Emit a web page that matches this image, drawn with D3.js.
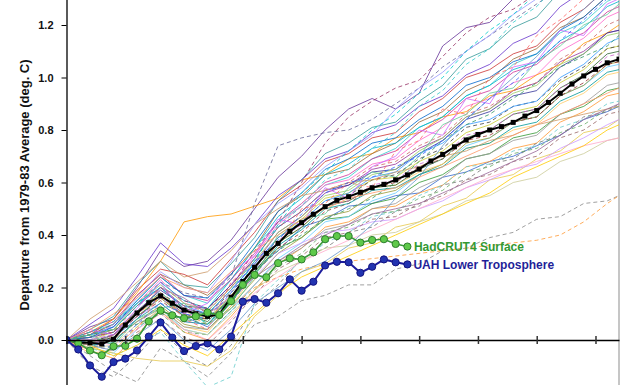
<!DOCTYPE html>
<html>
<head>
<meta charset="utf-8">
<script src="https://cdn.jsdelivr.net/npm/d3@7"></script>
<style>
body { margin: 0; background: #fff; }
svg { display: block; font-family: Arial, "Liberation Sans", sans-serif; }
</style>
</head>
<body>
<div id="chart"></div>
<script>
// 5-yr running means, departure from 1979-83 average (deg C)
var years = d3.range(1980, 2028);
var modelMean = [0, -0.01, -0.01, -0.015, 0.003, 0.057, 0.103, 0.142, 0.168, 0.14, 0.114, 0.10, 0.09, 0.098, 0.163, 0.223,
	0.277, 0.33, 0.368, 0.414, 0.447, 0.479, 0.508, 0.532, 0.546, 0.563, 0.58, 0.593, 0.61, 0.629, 0.651, 0.682,
	0.707, 0.736, 0.762, 0.783, 0.80, 0.813, 0.829, 0.853, 0.874, 0.905, 0.94, 0.975, 1.006, 1.031, 1.056, 1.07];
var hadcrut4 = [0, -0.012, -0.04, -0.058, -0.024, -0.022, 0.005, 0.071, 0.112, 0.094, 0.083, 0.09, 0.105, 0.095, 0.148,
	0.21, 0.248, 0.239, 0.293, 0.311, 0.307, 0.334, 0.384, 0.396, 0.396, 0.371, 0.381, 0.384, 0.366, 0.356];
var uah = [0, -0.036, -0.097, -0.14, -0.084, -0.071, -0.04, 0.013, 0.067, 0.009, -0.042, -0.023, -0.013, -0.036, 0.013,
	0.146, 0.156, 0.142, 0.178, 0.231, 0.188, 0.222, 0.284, 0.298, 0.296, 0.256, 0.279, 0.307, 0.296, 0.288];

// individual model runs, hundredths of a degree C, read every 2nd year
var modelYears = d3.range(1980, 2027, 2).concat([2027]);
var models = [
	[0,3,6,15,24,17,14,23,35,45,51,59,62,69,73,81,85,93,97,105,109,117,121,129,131],
	[0,-2,1,8,17,9,5,14,27,34,43,46,51,52,55,56,62,64,68,70,74,78,84,87,89],
	[0,1,4,13,20,12,10,19,29,41,47,56,59,65,67,73,77,85,88,95,98,106,110,117,118],
	[0,-4,-7,2,11,3,0,9,19,29,35,43,45,50,51,56,59,66,68,73,75,83,87,93,94],
	[0,2,8,19,27,25,21,31,41,53,59,68,71,77,79,87,92,100,103,109,112,121,126,134,136],
	[0,-1,2,9,16,9,8,16,26,35,39,46,47,52,54,60,63,69,71,77,79,86,89,95,96],
	[0,5,8,20,34,28,30,38,50,62,70,80,88,92,88,94,112,119,121,130,136,142,148,152,155],
	[0,-3,-5,4,12,4,2,11,21,31,37,45,47,53,56,63,67,74,77,83,85,93,97,104,105],
	[0,0,3,11,18,11,8,17,27,39,46,54,56,61,62,68,72,79,82,87,89,98,103,111,112],
	[0,2,5,14,23,14,12,21,32,44,51,59,61,67,69,76,81,89,92,98,101,110,115,123,125],
	[0,-10,-14,-6,4,-5,-10,-2,13,21,31,35,41,43,49,51,59,61,67,69,75,78,85,87,90],
	[0,-6,-12,-16,-3,-8,-14,-5,6,9,15,17,21,21,27,29,34,35,39,41,46,47,52,53,55],
	[0,-3,-6,-2,3,-8,-18,-14,14,23,30,37,41,47,49,55,59,66,67,72,74,81,84,90,91],
	[0,3,8,18,30,45,47,48,51,54,61,63,69,71,77,79,85,87,93,95,101,105,113,117,120],
	[0,-3,-5,-7,-8,-8,-10,-4,9,17,26,29,35,37,43,45,51,54,61,63,69,72,79,81,84],
	[0,2,6,17,25,21,17,25,35,49,55,63,65,71,75,83,87,95,99,107,111,119,123,131,133],
	[0,1,3,11,19,13,12,21,31,43,49,57,59,64,65,71,76,84,87,93,95,104,109,117,118],
	[0,-2,0,7,13,6,4,13,23,33,39,47,49,55,57,63,67,75,77,83,85,93,97,105,106],
	[0,2,4,13,22,15,12,23,35,47,54,63,67,73,75,81,85,93,97,103,106,114,119,127,129],
	[0,0,2,9,14,7,6,15,24,33,37,41,42,45,46,50,53,58,61,65,67,73,77,82,84],
	[0,4,9,21,30,21,20,29,39,53,61,71,75,81,83,91,97,107,111,119,123,133,139,147,150],
	[0,-1,1,9,15,9,8,15,25,35,41,49,52,58,60,66,69,76,78,83,85,93,98,105,106],
	[0,2,6,14,22,18,16,24,52,74,77,79,80,84,90,96,104,110,116,122,128,134,140,146,150],
	[0,1,3,10,20,15,12,20,34,45,60,75,85,91,96,99,108,117,123,126,132,138,144,150,152],
	[0,-2,-3,5,10,3,2,11,19,28,33,41,43,48,49,54,57,64,66,71,73,79,82,88,89],
	[0,3,7,17,25,17,15,23,33,45,52,60,63,69,72,79,84,92,95,102,105,113,117,125,127],
	[0,-1,2,11,18,12,10,18,28,39,45,53,55,61,63,69,73,81,83,89,91,99,104,111,112],
	[0,1,4,14,21,14,11,20,30,41,47,55,57,63,65,72,77,85,88,94,97,105,109,116,117],
	[0,-5,-4,5,12,5,3,13,25,37,43,51,53,58,59,64,67,73,75,80,82,90,94,101,102],
	[0,2,5,14,20,13,10,19,29,39,45,53,56,62,64,71,75,82,84,89,91,100,105,113,115],
	[0,6,12,24,37,29,28,35,44,55,61,69,72,79,82,89,93,101,105,113,117,127,133,141,142],
	[0,-1,0,7,12,5,4,12,21,30,35,42,44,50,52,58,62,69,71,76,78,86,90,97,98],
	[0,1,3,13,20,13,11,20,31,43,49,57,60,66,68,74,78,86,89,95,98,107,112,120,122],
	[0,-2,-1,8,14,7,6,15,25,36,42,50,52,57,58,63,66,73,75,81,83,91,95,102,103],
	[0,2,4,13,18,11,10,19,31,43,51,61,65,73,79,89,95,105,111,121,127,137,143,153,156],
	[0,-1,1,10,17,10,7,16,26,37,43,51,53,58,59,65,69,77,80,86,88,96,101,109,110],
	[0,0,2,10,16,10,9,17,27,38,44,51,53,59,61,67,70,78,80,86,88,96,100,108,109],
	[0,-3,-2,6,11,4,2,10,19,26,30,35,36,40,41,45,48,53,55,60,62,68,71,76,77],
	[0,1,5,15,24,17,16,25,37,49,56,65,69,75,77,84,89,97,100,106,109,118,123,131,132],
	[0,-2,-4,3,8,1,-2,7,17,27,32,39,41,46,47,52,55,61,63,68,70,77,80,86,87],
	[0,2,4,10,16,10,6,12,20,24,27,29,30,31,32,33,34,35,36,37,38,40,45,52,55],
	[0,0,-2,4,10,4,0,8,18,24,30,34,38,42,46,50,54,58,62,65,68,71,74,76,77],
	[0,8,14,22,30,24,26,34,44,50,55,57,60,61,64,66,70,72,76,78,82,84,86,88,89],
	[0,-2,-4,2,8,0,-4,4,14,20,26,30,36,44,54,62,74,84,92,100,108,118,126,134,138],
	[0,4,2,12,22,10,14,26,32,46,44,58,54,66,70,80,78,92,90,104,106,118,116,128,130],
	[0,-4,2,4,18,8,4,22,30,36,50,52,60,58,72,76,88,86,100,104,116,122,130,136,140],
	[0,2,-2,8,12,14,6,12,24,40,46,48,58,64,62,70,82,86,94,96,106,112,120,124,128],
	[0,0,6,16,26,20,18,30,44,52,58,66,72,78,88,96,102,110,116,124,130,136,142,150,154],
	[0,-2,-6,-2,4,-2,-6,2,10,18,24,28,32,36,40,44,48,52,56,62,66,70,74,80,82],
	[0,3,7,14,20,12,6,16,30,44,56,64,72,80,86,94,100,110,118,124,132,140,146,152,155],
	[0,-2,2,10,20,16,10,16,24,30,36,40,44,48,50,52,56,60,64,68,72,78,84,88,90],
	[0,2,4,6,10,8,6,14,26,34,40,46,50,54,60,68,76,82,86,92,98,104,108,112,116],
	[0,4,10,16,24,20,18,26,34,40,46,50,54,56,58,62,66,70,74,78,82,86,90,94,96],
	[0,-1,-3,6,14,10,8,18,30,38,48,56,60,62,66,70,76,84,92,98,106,114,122,130,132]
];
var modelColors = ["#33cccc","#3366cc","#993399","#ff9933","#cc3333","#339933","#663399","#66ccff",
	"#cccc33","#ff66cc","#777777","#888888","#66cccc","#ff9900","#e6c84c","#996633",
	"#333399","#999933","#00b3cc","#cc99ff","#339999","#993333","#666699","#993366",
	"#66aa66","#cc3399","#444444","#99cc66","#ffcc66","#3399ff","#6633cc","#999999",
	"#cc6666","#009999","#33cccc","#336633","#cc66cc","#cccc99","#0066cc","#996666",
	"#ff9933","#ffaacc","#cc9966","#6699cc","#cc66ff","#ff6666","#66cc99","#9999ff",
	"#ffcc00","#00cccc","#996699","#339966","#ff9966","#3366ff"];
var modelDashed = [0,0,0,0,0,0,0,0, 0,0,1,1,1,0,0,0, 0,0,0,0,0,1,1,1, 1,0,1,0,0,0,0,0,
	1,0,1,0,1,0,0,1, 1,0,0,0,0,1,0,0, 0,1,0,1,0,1];

var yTicks = [0, 0.2, 0.4, 0.6, 0.8, 1.0, 1.2];
var xTicks = d3.range(1980, 2030, 5);

var width = 640;
var height = 385;
var svg = d3.select("#chart")
	.append("svg")
	.attr("width", width)
	.attr("height", height);

var plotLeft = 66.5, plotRight = 619;
var xScale = d3.scaleLinear().domain([1980, 2027]).range([plotLeft, plotRight]);
var yScale = d3.scaleLinear().domain([-0.25, 1.35]).range([340 + 0.25 * 262.5, 340 - 1.35 * 262.5]);
var plotTop = yScale(1.35), plotBottom = yScale(-0.25);

svg.append("clipPath").attr("id", "plot")
	.append("rect")
	.attr("x", plotLeft).attr("y", plotTop)
	.attr("width", plotRight - plotLeft).attr("height", plotBottom - plotTop);

// right border of the plot area
svg.append("line")
	.attr("x1", plotRight).attr("x2", plotRight)
	.attr("y1", plotTop).attr("y2", plotBottom)
	.attr("stroke", "#a0a0a0").attr("stroke-width", 1.2);

var line = d3.line()
	.x(function(d) { return xScale(d[0]); })
	.y(function(d) { return yScale(d[1]); });

var plot = svg.append("g").attr("clip-path", "url(#plot)");

// model spaghetti
plot.append("g")
	.selectAll("path")
	.data(models)
	.enter()
	.append("path")
	.attr("d", function(vals) {
		return line(vals.map(function(v, j) { return [modelYears[j], v / 100]; }));
	})
	.attr("fill", "none")
	.attr("stroke", function(d, i) { return modelColors[i]; })
	.attr("stroke-width", 1)
	.attr("stroke-opacity", 0.8)
	.attr("stroke-dasharray", function(d, i) { return modelDashed[i] ? "4,3" : null; });

// x axis through zero, ticks crossing the line
var axisX = d3.axisBottom(xScale)
	.tickValues(xTicks)
	.tickSize(4)
	.tickSizeOuter(0)
	.tickFormat("");
var gx = svg.append("g")
	.attr("transform", "translate(0," + yScale(0) + ")")
	.call(axisX);
gx.select(".domain").attr("stroke", "#000").attr("stroke-width", 1.3);
gx.selectAll(".tick line").attr("y1", -4).attr("y2", 4).attr("stroke", "#333").attr("stroke-width", 1.5);

// y axis
var axisY = d3.axisLeft(yScale)
	.tickValues(yTicks)
	.tickSize(5)
	.tickSizeOuter(0)
	.tickPadding(8)
	.tickFormat(d3.format(".1f"));
var gy = svg.append("g")
	.attr("transform", "translate(" + plotLeft + ",0)")
	.call(axisY);
gy.select(".domain").attr("stroke", "#000").attr("stroke-width", 1.3);
gy.selectAll(".tick line").attr("stroke", "#000");
gy.selectAll(".tick text")
	.attr("font-family", "Arial, 'Liberation Sans', sans-serif")
	.attr("font-size", 11)
	.attr("font-weight", "bold")
	.attr("fill", "#111");

svg.append("text")
	.attr("transform", "translate(29,185) rotate(-90)")
	.attr("text-anchor", "middle")
	.attr("font-size", 13)
	.attr("font-weight", "bold")
	.attr("fill", "#111")
	.text("Departure from 1979-83 Average (deg. C)");

// multi-model mean
var meanData = years.map(function(y, i) { return [y, modelMean[i]]; });
plot.append("path")
	.attr("d", line(meanData))
	.attr("fill", "none")
	.attr("stroke", "#000")
	.attr("stroke-width", 2);
plot.append("g")
	.selectAll("rect")
	.data(meanData)
	.enter()
	.append("rect")
	.attr("x", function(d) { return xScale(d[0]) - 2.5; })
	.attr("y", function(d) { return yScale(d[1]) - 2.5; })
	.attr("width", 5)
	.attr("height", 5)
	.attr("fill", "#000");

// observations
function drawObs(vals, lineColor, fill, stroke, width) {
	var data = vals.map(function(v, i) { return [years[i], v]; });
	plot.append("path")
		.attr("d", line(data))
		.attr("fill", "none")
		.attr("stroke", lineColor)
		.attr("stroke-width", width);
	plot.append("g")
		.selectAll("circle")
		.data(data)
		.enter()
		.append("circle")
		.attr("cx", function(d) { return xScale(d[0]); })
		.attr("cy", function(d) { return yScale(d[1]); })
		.attr("r", 3.6)
		.attr("fill", fill)
		.attr("stroke", stroke)
		.attr("stroke-width", 1);
	return data[data.length - 1];
}
var hEnd = drawObs(hadcrut4, "#3a9a3a", "#5fc94a", "#2e7d2e", 1.6);
var uEnd = drawObs(uah, "#1c1c9c", "#2233b0", "#141480", 2);

svg.append("text")
	.attr("x", xScale(hEnd[0]) + 6.5)
	.attr("y", yScale(hEnd[1]) + 4.5)
	.attr("font-size", 12)
	.attr("font-weight", "bold")
	.attr("fill", "#339933")
	.text("HadCRUT4 Surface");
svg.append("text")
	.attr("x", xScale(uEnd[0]) + 6)
	.attr("y", yScale(uEnd[1]) + 4.5)
	.attr("font-size", 12)
	.attr("font-weight", "bold")
	.attr("fill", "#1f1f99")
	.text("UAH Lower Troposphere");
</script>
</body>
</html>
